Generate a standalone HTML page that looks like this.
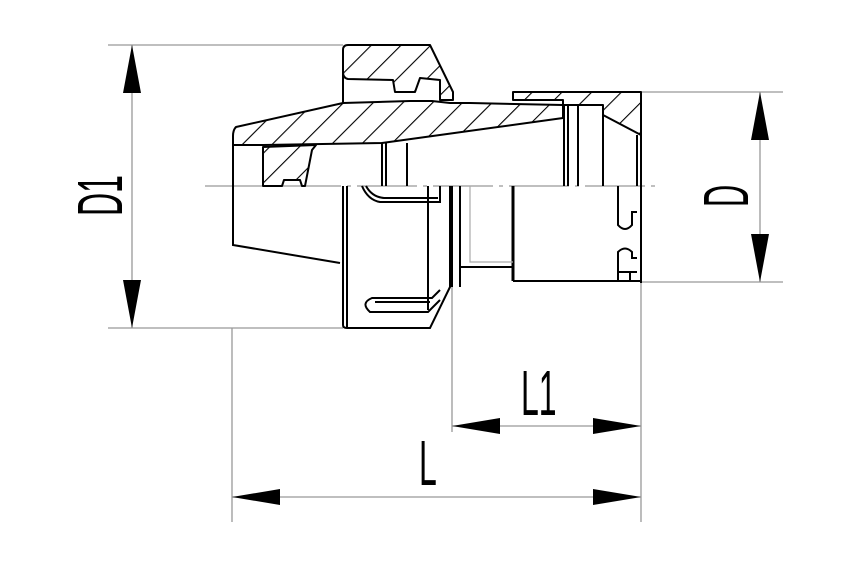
<!DOCTYPE html>
<html><head><meta charset="utf-8"><style>
html,body{margin:0;padding:0;background:#fff;}
svg{display:block;}
text{font-family:"Liberation Sans",sans-serif;fill:#000;}
</style></head><body>
<svg width="850" height="567" viewBox="0 0 850 567" xmlns="http://www.w3.org/2000/svg">
<defs>
<pattern id="h" patternUnits="userSpaceOnUse" width="21" height="21" patternTransform="rotate(45)">
<line x1="0" y1="0" x2="0" y2="21" stroke="#000" stroke-width="2.2"/>
</pattern>
</defs>
<g stroke="#999" stroke-width="1.3" fill="none">
<line x1="108" y1="45" x2="343" y2="45"/>
<line x1="108" y1="328" x2="343" y2="328"/>
<line x1="132" y1="45" x2="132" y2="328"/>
<line x1="641" y1="92" x2="783" y2="92"/>
<line x1="641" y1="282" x2="783" y2="282"/>
<line x1="760" y1="92" x2="760" y2="282"/>
<line x1="452" y1="287" x2="452" y2="432"/>
<line x1="452" y1="426" x2="641" y2="426"/>
<line x1="232" y1="497" x2="641" y2="497"/>
<line x1="232" y1="328" x2="232" y2="522"/>
<line x1="641" y1="282" x2="641" y2="522"/>
<line x1="205" y1="186" x2="660" y2="186" stroke-dasharray="60 6 4 6"/>
</g>
<g fill="#000">
<polygon points="132,45 123,93 141,93"/>
<polygon points="132,328 123,280 141,280"/>
<polygon points="760,92 751,140 769,140"/>
<polygon points="760,282 751,234 769,234"/>
<polygon points="452,426 500,418 500,434"/>
<polygon points="641,426 593,418 593,434"/>
<polygon points="232,497 280,489 280,505"/>
<polygon points="641,497 593,489 593,505"/>
</g>
<g stroke="#000" stroke-width="2" fill="url(#h)" stroke-linejoin="round">
<path d="M343,50 Q343,45 348,45 L430,45 L453,92 L453,100 L440,100 L440,80 L420,78 L415,92 L395,92 L393,80 L348,79 Q343,78 343,72 Z"/>
<path d="M236,127 Q233,130 233,136 L233,145 L263,145 L382,143 L563,118 L563,105 L470,103 L450,103 L432,101 L410,101 L343,103 Z"/>
<path d="M263,147 L263,186 L282,186 L284,180 L300,180 L302,186 L305,186 L312,150 L316,145 Z"/>
<path d="M513,92 L641,92 L641,135 L603,115 L603,105 L563,105 L563,100 L513,100 Z"/>
</g>
<g stroke="#000" stroke-width="2" fill="none">
<line x1="343" y1="72" x2="343" y2="103"/>
<path d="M233,145 L233,186"/>
<line x1="382" y1="143" x2="382" y2="186"/>
<line x1="386" y1="143" x2="386" y2="186"/>
<line x1="407" y1="143" x2="407" y2="186"/>
<line x1="564" y1="105" x2="564" y2="186"/>
<line x1="568" y1="105" x2="568" y2="186"/>
<line x1="578" y1="105" x2="578" y2="186"/>
<line x1="603" y1="115" x2="603" y2="186"/>
<line x1="641" y1="135" x2="641" y2="283"/>
<line x1="637" y1="135" x2="637" y2="186"/>
<path d="M233,186 L233,245 L340,263"/>
<path d="M343,186 L343,325 Q343,328 347,328 L430,328 L450,287 L450,186"/>
<line x1="347" y1="186" x2="347" y2="328"/>
<line x1="428" y1="186" x2="428" y2="310"/>
<line x1="452" y1="186" x2="452" y2="287"/>
<line x1="460" y1="186" x2="460" y2="287"/>
<path d="M460,267 L513,267"/>
<line x1="513" y1="186" x2="513" y2="281" stroke-width="3"/>
<path d="M513,281 L641,281"/>
<path d="M362,186 Q368,200 380,202 L440,202 L440,186"/>
<path d="M366,186 Q372,197 384,198 L438,198"/>
<path d="M440,290 L432,298 L372,298 Q360,303 370,312 L428,312 L440,300"/>
<path d="M375,302 L430,302"/>
<path d="M618,186 L618,225 Q625,233 632,225 L632,212 L637,212"/>
<path d="M618,281 L618,252 Q625,245 632,252 L632,258 L637,258"/>
<line x1="618" y1="272" x2="637" y2="272"/>
<line x1="630" y1="272" x2="630" y2="281"/>
</g>
<g stroke="#aaa" stroke-width="1.2" fill="none">
<path d="M470,186 L470,262 L513,262"/>
</g>
<text transform="translate(122,216) rotate(-90) scale(0.5,1)" font-size="64">D1</text>
<text transform="translate(748,207) rotate(-90) scale(0.48,1)" font-size="64">D</text>
<text transform="translate(521,415) scale(0.5,1)" font-size="64">L1</text>
<text transform="translate(419,485) scale(0.5,1)" font-size="64">L</text>
</svg>
</body></html>
